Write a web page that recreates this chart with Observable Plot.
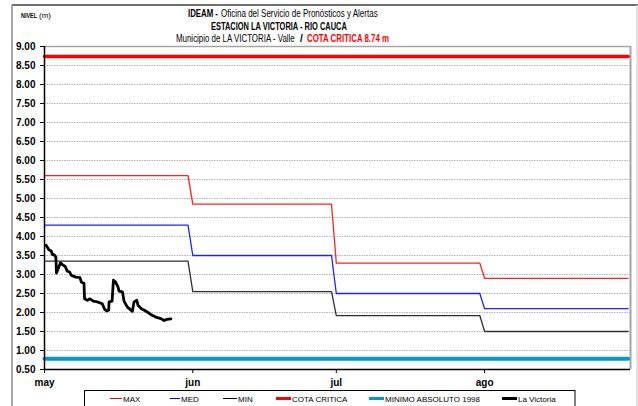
<!DOCTYPE html>
<html>
<head>
<meta charset="utf-8">
<script src="https://cdn.jsdelivr.net/npm/d3@7"></script>
<script src="https://cdn.jsdelivr.net/npm/@observablehq/plot@0.6"></script>
<style>
  html, body { margin: 0; padding: 0; background: #fff; }
  #chart { width: 638px; height: 406px; overflow: hidden; }
</style>
</head>
<body>
<div id="chart"></div>
<script>
// ---- data ----
const monthStarts = ["2011-05-01", "2011-06-01", "2011-07-01", "2011-08-01"];
const monthEnds   = ["2011-05-31", "2011-06-30", "2011-07-31", "2011-08-31"];
const monthLabels = ["may", "jun", "jul", "ago"];
const maxLevels = [5.6, 4.85, 3.3, 2.9];
const medLevels = [4.3, 3.5, 2.5, 2.1];
const minLevels = [3.35, 2.55, 1.92, 1.5];
const cotaCritica = 8.74;
const minimoAbsoluto = 0.78;
const yTicks = [0.5, 1.0, 1.5, 2.0, 2.5, 3.0, 3.5, 4.0, 4.5, 5.0, 5.5, 6.0, 6.5, 7.0, 7.5, 8.0, 8.5, 9.0];
const gridTicks = [1.0, 1.5, 2.0, 2.5, 3.0, 3.5, 4.0, 4.5, 5.0, 5.5, 6.0, 6.5, 7.0, 7.5, 8.0, 8.5];

const victoriaTime = [
  "2011-05-01T08:00Z","2011-05-01T22:00Z","2011-05-02T10:00Z","2011-05-02T15:00Z","2011-05-03T02:00Z",
  "2011-05-03T09:00Z","2011-05-03T12:00Z","2011-05-03T19:00Z","2011-05-04T08:00Z","2011-05-04T18:00Z",
  "2011-05-05T08:00Z","2011-05-05T18:00Z","2011-05-06T07:00Z","2011-05-06T14:00Z","2011-05-07T13:00Z",
  "2011-05-08T10:00Z","2011-05-08T17:00Z","2011-05-09T06:00Z","2011-05-09T09:00Z","2011-05-09T23:00Z",
  "2011-05-10T12:00Z","2011-05-11T05:00Z","2011-05-12T01:00Z","2011-05-13T02:00Z","2011-05-13T14:00Z",
  "2011-05-14T00:00Z","2011-05-14T10:00Z","2011-05-14T12:00Z","2011-05-15T03:00Z","2011-05-15T10:00Z",
  "2011-05-15T21:00Z","2011-05-16T09:00Z","2011-05-16T14:00Z","2011-05-17T07:00Z","2011-05-17T15:00Z",
  "2011-05-18T08:00Z","2011-05-19T09:00Z","2011-05-19T17:00Z","2011-05-20T07:00Z","2011-05-20T13:00Z",
  "2011-05-21T06:00Z","2011-05-22T04:00Z","2011-05-23T05:00Z","2011-05-24T06:00Z","2011-05-25T08:00Z",
  "2011-05-26T00:00Z","2011-05-26T14:00Z","2011-05-27T10:00Z"
];
const victoriaLevel = [
  3.77, 3.65, 3.62, 3.53, 3.51,
  3.46, 3.04, 3.13, 3.31, 3.26,
  3.21, 3.09, 3.06, 2.98, 2.93,
  2.92, 2.80, 2.77, 2.36, 2.32,
  2.36, 2.30, 2.28, 2.23, 2.08,
  2.04, 2.06, 2.28, 2.30, 2.85,
  2.80, 2.67, 2.56, 2.54, 2.30,
  2.14, 2.03, 2.28, 2.32, 2.19,
  2.10, 2.04, 1.95, 1.88, 1.84,
  1.79, 1.82, 1.83
];

const legendLabels = ["MAX", "MED", "MIN", "COTA CRITICA", "MINIMO ABSOLUTO 1998", "La Victoria"];
const legendColors = ["#ff0000", "#0000ff", "#000000", "#ff0000", "#0099cc", "#000000"];
const legendWidths = [1, 1, 1, 3, 3, 3];

// ---- tables ----
const parse = s => new Date(s);
const stepRows = levels => levels.flatMap((v, i) => [
  {t: parse(monthStarts[i]), v},
  {t: parse(monthEnds[i]), v}
]);
const maxRows = stepRows(maxLevels);
const medRows = stepRows(medLevels);
const minRows = stepRows(minLevels);
const tStart = parse(monthStarts[0]);
const tEnd = parse(monthEnds[monthEnds.length - 1]);
const cotaRows = [{t: tStart, v: cotaCritica}, {t: tEnd, v: cotaCritica}];
const minimoRows = [{t: tStart, v: minimoAbsoluto}, {t: tEnd, v: minimoAbsoluto}];
const victoriaRows = victoriaTime.map((s, i) => ({t: parse(s), v: victoriaLevel[i]}));
const monthTickDates = monthStarts.map(parse);
const domainEnd = new Date(+tEnd + 12 * 3600 * 1000);

const plot = Plot.plot({
  width: 638,
  height: 406,
  marginLeft: 44,
  marginRight: 8,
  marginTop: 46,
  marginBottom: 37,
  style: {fontFamily: "'Liberation Sans', Arial, sans-serif", fontSize: "10px", background: "#fff", color: "#000", overflow: "visible"},
  x: {type: "utc", domain: [tStart, domainEnd]},
  y: {domain: [0.5, 9]},
  marks: [
    Plot.gridY(gridTicks, {stroke: "#b4b4b4", strokeOpacity: 1, strokeDasharray: "1.5,1"}),
    Plot.ruleY([9], {stroke: "#a6a6a6", strokeWidth: 1.5}),
    Plot.ruleX([domainEnd], {stroke: "#a6a6a6", strokeWidth: 2}),
    Plot.line(minimoRows, {x: "t", y: "v", stroke: "#0099cc", strokeWidth: 4}),
    Plot.line(cotaRows, {x: "t", y: "v", stroke: "#ff0000", strokeWidth: 3.5}),
    Plot.line(maxRows, {x: "t", y: "v", stroke: "#ff2020", strokeWidth: 1.3}),
    Plot.line(medRows, {x: "t", y: "v", stroke: "#2020ff", strokeWidth: 1.3}),
    Plot.line(minRows, {x: "t", y: "v", stroke: "#303030", strokeWidth: 1.3}),
    Plot.line(victoriaRows, {x: "t", y: "v", stroke: "#000", strokeWidth: 2.8, strokeLinejoin: "round", strokeLinecap: "round"}),
    Plot.ruleY([0.5], {stroke: "#000", strokeWidth: 1.5}),
    Plot.ruleX([tStart], {stroke: "#000", strokeWidth: 1.5}),
    Plot.axisY(yTicks, {tickFormat: d3.format(".2f"), tickSize: 4, tickPadding: 5, fontWeight: "bold", fontSize: 10, label: null}),
    Plot.axisX(monthTickDates, {
      tickFormat: d => monthLabels[monthTickDates.findIndex(m => +m === +d)],
      tickSize: 4, tickPadding: 5, fontWeight: "bold", fontSize: 10, label: null
    })
  ]
});

document.getElementById("chart").appendChild(plot);

// ---- titles, frame, legend ----
const svg = d3.select(plot);
const sans = "'Liberation Sans', Arial, sans-serif";

// outer frame
svg.append("line").attr("x1", 12).attr("x2", 638).attr("y1", 5).attr("y2", 5)
  .attr("stroke", "#404040").attr("stroke-width", 1.5);
svg.append("line").attr("x1", 12).attr("x2", 12).attr("y1", 5).attr("y2", 406)
  .attr("stroke", "#8c8c8c").attr("stroke-width", 1.5);
svg.append("line").attr("x1", 637).attr("x2", 637).attr("y1", 5).attr("y2", 406)
  .attr("stroke", "#d8d8d8").attr("stroke-width", 1.5);

// text squeezed horizontally to a given width (narrow-font look)
function fitText(txt, x, y, width, opts = {}) {
  const t = svg.append("text")
    .attr("x", 0).attr("y", 0)
    .attr("text-anchor", "start")
    .attr("font-family", sans)
    .attr("font-size", opts.size || 10)
    .attr("font-weight", opts.bold ? "bold" : "normal")
    .attr("fill", opts.fill || "#000")
    .text(txt);
  const natural = t.node().getComputedTextLength();
  const sx = width && natural ? width / natural : 1;
  t.attr("transform", `translate(${x},${y}) scale(${sx},1)`);
  return t;
}

fitText("NIVEL", 21, 17.5, 16, {bold: true, size: 8});
fitText("(m)", 39, 17.5, 12, {size: 7});

fitText("IDEAM -", 188, 17, 30, {bold: true});
fitText("Oficina del Servicio de Pronósticos y Alertas", 221, 17, 157);
fitText("ESTACION LA VICTORIA - RIO CAUCA", 211, 29.5, 136, {bold: true});
fitText("Municipio de LA VICTORIA - Valle", 176, 41.5, 119);
fitText("/", 300, 41.5, null, {bold: true});
fitText("COTA CRITICA 8.74 m", 307, 41.5, 82, {bold: true, fill: "#ff0000"});

// legend
svg.append("rect").attr("x", 84.5).attr("y", 390.5).attr("width", 490.5).attr("height", 30)
  .attr("fill", "#fff").attr("stroke", "#000").attr("stroke-width", 1);
const legendX = [110, 170, 223, 276, 369, 502];
const legendLineLen = [12, 10, 14, 15, 15, 15];
legendLabels.forEach((lab, i) => {
  svg.append("line")
    .attr("x1", legendX[i]).attr("x2", legendX[i] + legendLineLen[i])
    .attr("y1", 398.5).attr("y2", 398.5)
    .attr("stroke", legendColors[i]).attr("stroke-width", legendWidths[i]);
  fitText(lab, legendX[i] + legendLineLen[i] + 1, 401.5, null, {size: 8});
});
</script>
</body>
</html>
